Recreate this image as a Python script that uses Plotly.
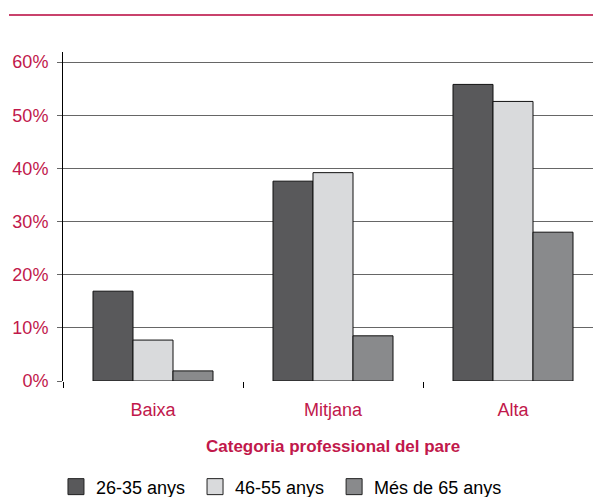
import plotly.graph_objects as go

categories = ["Baixa", "Mitjana", "Alta"]
series_names = ["26-35 anys", "46-55 anys", "Més de 65 anys"]
values_26_35 = [16.9, 37.6, 55.8]
values_46_55 = [7.7, 39.2, 52.6]
values_65 = [1.9, 8.5, 28.0]
series_values = [values_26_35, values_46_55, values_65]
colors = ["#59595b", "#d9dadc", "#898a8c"]

RED = "#c1184b"
FONT = "Liberation Sans, Arial, sans-serif"

fig = go.Figure()
for name, vals, col in zip(series_names, series_values, colors):
    fig.add_trace(go.Bar(
        x=categories, y=vals, name=name, showlegend=False,
        marker=dict(color=col, line=dict(color="#111111", width=1)),
    ))
# legend proxies (non-breaking space pads the entry spacing)
for i, (name, col) in enumerate(zip(series_names, colors)):
    label = name + ("\u00a0" if i < len(series_names) - 1 else "")
    fig.add_trace(go.Scatter(
        x=[None], y=[None], mode="markers", name=label,
        marker=dict(symbol="square", size=20, color=col,
                    line=dict(color="#222222", width=1)),
    ))

fig.update_layout(
    width=601, height=497,
    margin=dict(l=55, r=6, t=44, b=124, autoexpand=False),
    paper_bgcolor="white", plot_bgcolor="white",
    font=dict(family=FONT, size=18, color="black"),
    barmode="group", bargap=1/3, bargroupgap=0,
    showlegend=True,
    legend=dict(orientation="h", x=-0.013, y=-0.322, xanchor="left", yanchor="middle",
                font=dict(size=18, color="black"),
                itemsizing="trace", tracegroupgap=0, bgcolor="rgba(0,0,0,0)"),
    xaxis=dict(
        showline=False, ticks="outside", tickson="boundaries", ticklen=6,
        tickcolor="black", tickfont=dict(color=RED, size=18),
        ticklabelstandoff=16,
        showgrid=False, automargin=False,
    ),
    yaxis=dict(
        range=[0, 61.9], tickvals=[0, 10, 20, 30, 40, 50, 60],
        ticktext=["0%", "10%", "20%", "30%", "40%", "50%", "60%"],
        showline=True, linecolor="black", linewidth=1,
        ticks="outside", ticklen=5, tickcolor="#666666",
        gridcolor="#666666", gridwidth=1.2, zeroline=False,
        tickfont=dict(color=RED, size=18), ticklabelstandoff=5,
        automargin=False,
    ),
    annotations=[dict(
        text="<b>Categoria professional del pare</b>", xref="paper", yref="paper",
        x=0.5, y=-0.1976, xanchor="center", yanchor="middle", showarrow=False,
        font=dict(color=RED, size=17, family=FONT),
    )],
    shapes=[dict(
        type="line", xref="paper", yref="paper", x0=-0.1, x1=1.02, y0=1.1125, y1=1.1125,
        line=dict(color="#c9426c", width=2),
    )],
)

fig.write_html("out.html")
